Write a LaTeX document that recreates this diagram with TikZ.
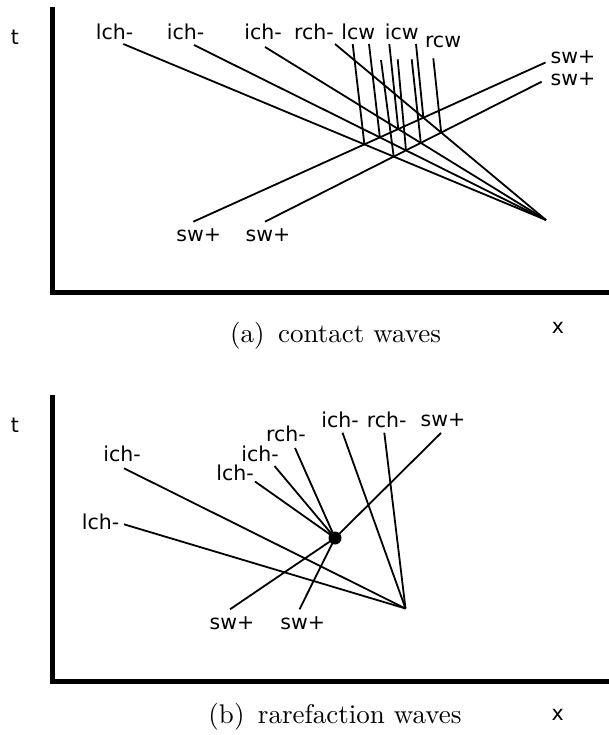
\documentclass[tikz,border=0pt]{standalone}
\usepackage{fontspec}
\newfontfamily\lblfont{DejaVu Sans}
\newfontfamily\capfont{lmroman10-regular.otf}
\begin{document}
\begin{tikzpicture}[x=1pt,y=-1pt,
  wave/.style={line width=1.8pt},
  axisline/.style={line width=4.5pt},
  lab/.style={font=\lblfont\fontsize{20.5}{24}\selectfont, anchor=base, inner sep=0pt},
  captext/.style={font=\capfont\fontsize{27}{32}\selectfont, anchor=base, inner sep=0pt}]
\useasboundingbox (0,0) rectangle (609,735);

%%%%%%%%%%%%%%%% (a) contact waves
\coordinate (ytopA) at (52.7,7.3);
\coordinate (origA) at (52.7,292.7);
\coordinate (xendA) at (609,292.7);
\draw[axisline] (ytopA) -- (origA) -- (xendA);
\node[lab] (tA) at (15,45) {t};
\node[lab] (xA) at (558,333.3) {x};
\node[captext] (capA) at (335.5,342.7) {(a)\, contact waves};

\coordinate (apexA) at (546,220);
\coordinate (lchA) at (123.3,44);
\coordinate (ichA) at (194,45);
\coordinate (ichB) at (265,47);
\coordinate (rchA) at (335,44);
\coordinate (swAs) at (193.3,221.7);
\coordinate (swAe) at (545.5,62.5);
\coordinate (swBs) at (265,221.7);
\coordinate (swBe) at (541.7,81.7);

\draw[wave] (lchA) -- (apexA);
\draw[wave] (ichA) -- (apexA);
\draw[wave] (ichB) -- (apexA);
\draw[wave] (rchA) -- (apexA);
\draw[wave] (swAs) -- (swAe);
\draw[wave] (swBs) -- (swBe);

\coordinate (p1) at (intersection of lchA--apexA and swAs--swAe);
\coordinate (p2) at (intersection of ichA--apexA and swAs--swAe);
\coordinate (p4) at (intersection of ichB--apexA and swAs--swAe);
\coordinate (p7) at (intersection of rchA--apexA and swAs--swAe);
\coordinate (p3) at (intersection of lchA--apexA and swBs--swBe);
\coordinate (p5) at (intersection of ichA--apexA and swBs--swBe);
\coordinate (p6) at (intersection of ichB--apexA and swBs--swBe);
\coordinate (p8) at (intersection of rchA--apexA and swBs--swBe);

\coordinate (q1) at (352.7,44);
\coordinate (q2) at (369,44);
\coordinate (q4) at (389.3,44);
\coordinate (q7) at (416,44);
\coordinate (q3) at (381,60);
\coordinate (q5) at (397.7,59.3);
\coordinate (q6) at (411.7,59.3);
\coordinate (q8) at (433.3,58.3);

\foreach \i in {1,...,8} {\draw[wave] (p\i) -- (q\i);}

\node[lab] (LlchA) at (114.5,39.3) {lch-};
\node[lab] (LichA) at (185.5,39.3) {ich-};
\node[lab] (LichB) at (263,39.3) {ich-};
\node[lab] (LrchA) at (314,39.3) {rch-};
\node[lab] (Llcw) at (358.3,39.3) {lcw};
\node[lab] (Licw) at (401.7,39.3) {icw};
\node[lab] (Lrcw) at (443,47.3) {rcw};
\node[lab] (LswAe) at (573,64) {sw+};
\node[lab] (LswBe) at (573,86) {sw+};
\node[lab] (LswAs) at (198.8,241.7) {sw+};
\node[lab] (LswBs) at (268,241.7) {sw+};

%%%%%%%%%%%%%%%% (b) rarefaction waves
\coordinate (ytopB) at (52.7,395.3);
\coordinate (origB) at (52.7,681.7);
\coordinate (xendB) at (609,681.7);
\draw[axisline] (ytopB) -- (origB) -- (xendB);
\node[lab] (tB) at (15,432.7) {t};
\node[lab] (xB) at (557.7,720.7) {x};
\node[captext] (capB) at (335,723.3) {(b)\, rarefaction waves};

\coordinate (apexB) at (405.5,608.5);
\coordinate (dot) at (335,538);
\coordinate (ichL) at (124,468.3);
\coordinate (lchL) at (124,524.3);
\coordinate (lchM) at (255,481.5);
\coordinate (ichM) at (274.5,466);
\coordinate (rchM) at (295,448);
\coordinate (ichT) at (342.5,432.7);
\coordinate (rchT) at (384.3,432.7);
\coordinate (swT) at (441,433);
\coordinate (swBL) at (230,609.3);
\coordinate (swBR) at (299.5,609.3);

\draw[wave] (ichL) -- (apexB);
\draw[wave] (lchL) -- (apexB);
\draw[wave] (ichT) -- (apexB);
\draw[wave] (rchT) -- (apexB);
\draw[wave] (lchM) -- (dot);
\draw[wave] (ichM) -- (dot);
\draw[wave] (rchM) -- (dot);
\draw[wave] (swT) -- (dot);
\draw[wave] (swBL) -- (dot);
\draw[wave] (swBR) -- (dot);
\fill (dot) circle (6.5);

\node[lab] (LichL) at (122,461.7) {ich-};
\node[lab] (LlchL) at (100.5,529.3) {lch-};
\node[lab] (LlchM) at (235,480.5) {lch-};
\node[lab] (LichM) at (260,461) {ich-};
\node[lab] (LrchM) at (286,441.7) {rch-};
\node[lab] (LichT) at (340,427.3) {ich-};
\node[lab] (LrchT) at (386.7,427.3) {rch-};
\node[lab] (LswT) at (443,426.7) {sw+};
\node[lab] (LswBL) at (232,629.3) {sw+};
\node[lab] (LswBR) at (302.8,629.3) {sw+};
\end{tikzpicture}
\end{document}
